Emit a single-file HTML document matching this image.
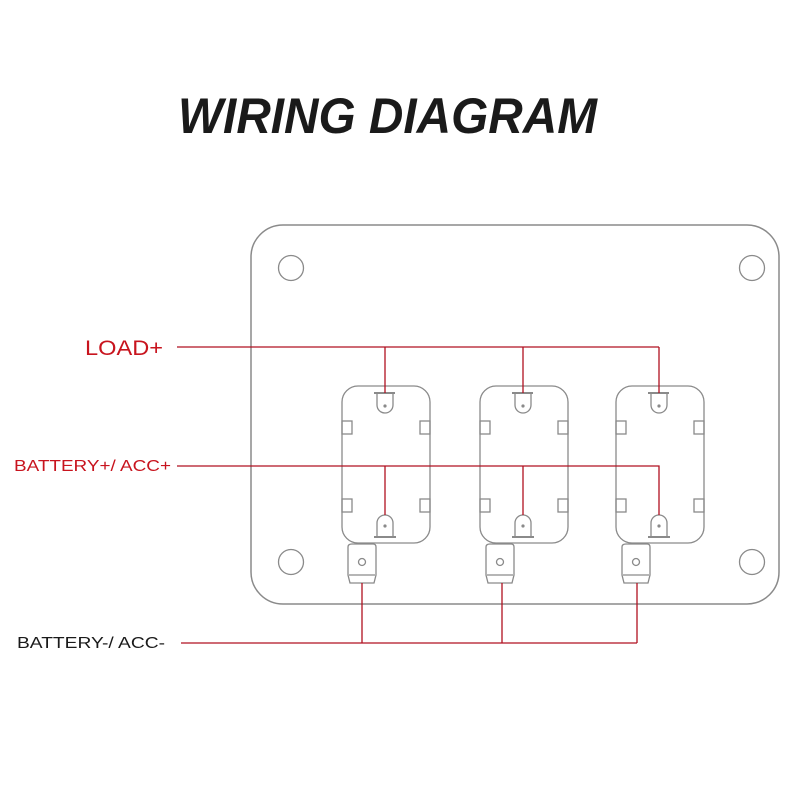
<!DOCTYPE html>
<html><head><style>
html,body{margin:0;padding:0;background:#fff;}
svg{display:block;}
</style></head><body>
<svg width="800" height="800" viewBox="0 0 800 800" xmlns="http://www.w3.org/2000/svg">
<defs>
<g id="sw" fill="none" stroke="#8a8a8a" stroke-width="1.3">
  <rect x="0" y="0" width="88" height="157" rx="16"/>
  <rect x="0" y="35" width="10" height="13"/>
  <rect x="78" y="35" width="10" height="13"/>
  <rect x="0" y="113" width="10" height="13"/>
  <rect x="78" y="113" width="10" height="13"/>
  <line x1="32" y1="7" x2="53" y2="7" stroke-width="2"/>
  <path d="M35,7 V19 A8,8 0 0 0 51,19 V7"/>
  <circle cx="43" cy="20" r="1.6" fill="#8a8a8a" stroke="none"/>
  <line x1="32" y1="151" x2="54" y2="151" stroke-width="2"/>
  <path d="M35,151 V137 A8,8 0 0 1 51,137 V151"/>
  <circle cx="43" cy="140" r="1.6" fill="#8a8a8a" stroke="none"/>
  <path d="M10,158 H31 Q34,158 34,161 V189 L32,197 H8 L6,189 V161 Q6,158 10,158 Z"/>
  <line x1="7" y1="189" x2="33" y2="189"/>
  <circle cx="20" cy="176" r="3.5"/>
</g>
</defs>
<text x="178" y="133" font-family="Liberation Sans, sans-serif" font-weight="bold" font-style="italic" font-size="50" fill="#1a1a1a" textLength="419" lengthAdjust="spacingAndGlyphs">WIRING DIAGRAM</text>

<rect x="251" y="225" width="528" height="379" rx="32" fill="none" stroke="#8a8a8a" stroke-width="1.5"/>
<g fill="none" stroke="#8a8a8a" stroke-width="1.3">
<circle cx="291" cy="268" r="12.5"/>
<circle cx="752" cy="268" r="12.5"/>
<circle cx="291" cy="562" r="12.5"/>
<circle cx="752" cy="562" r="12.5"/>
</g>

<use href="#sw" x="342" y="386"/>
<use href="#sw" x="480" y="386"/>
<use href="#sw" x="616" y="386"/>

<g stroke="#b01020" stroke-width="1.3" fill="none">
<polyline points="177,347 659,347"/>
<line x1="385" y1="347" x2="385" y2="393"/>
<line x1="523" y1="347" x2="523" y2="393"/>
<line x1="659" y1="347" x2="659" y2="393"/>
<polyline points="177,466 659,466 659,515"/>
<line x1="385" y1="466" x2="385" y2="515"/>
<line x1="523" y1="466" x2="523" y2="515"/>
<polyline points="181,643 637,643"/>
<line x1="362" y1="583" x2="362" y2="643"/>
<line x1="502" y1="583" x2="502" y2="643"/>
<line x1="637" y1="583" x2="637" y2="643"/>
</g>

<g font-family="Liberation Sans, sans-serif">
<text x="85" y="355" font-size="21" fill="#c8141e" textLength="78" lengthAdjust="spacingAndGlyphs">LOAD+</text>
<text x="14" y="471" font-size="16" fill="#c8141e" textLength="157" lengthAdjust="spacingAndGlyphs">BATTERY+/ ACC+</text>
<text x="17" y="648" font-size="16" fill="#1a1a1a" textLength="148" lengthAdjust="spacingAndGlyphs">BATTERY-/ ACC-</text>
</g>
</svg>
</body></html>
